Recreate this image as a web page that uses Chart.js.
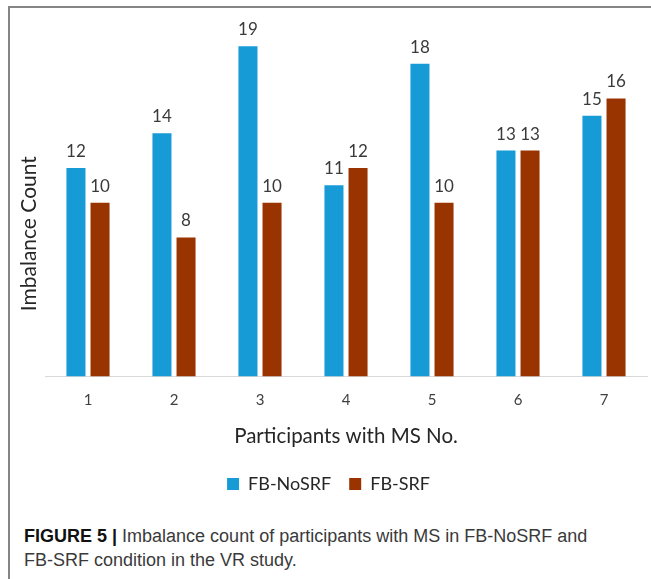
<!DOCTYPE html>
<html>
<head>
<meta charset="utf-8">
<script src="https://cdn.jsdelivr.net/npm/chart.js@4/dist/chart.umd.min.js"></script>
<style>
  html, body { margin: 0; padding: 0; background: #fff; }
  body { width: 651px; height: 579px; position: relative; overflow: hidden; }
  #frame {
    position: absolute; left: 8px; top: 6px; width: 700px; height: 640px;
    border-top: 2px solid #858585; border-left: 2px solid #858585;
  }
  #wrap { position: absolute; left: 10px; top: 8px; width: 641px; height: 495px; }
  #caption {
    position: absolute; left: 24px; top: 524px; width: 575px;
    font-family: "Liberation Sans", Arial, sans-serif; font-size: 18px;
    line-height: 24px; color: #3a3a3a;
  }
  #caption b { color: #111; }
</style>
</head>
<body>
<div id="frame"></div>
<div id="wrap"><canvas id="chart" width="641" height="495"></canvas></div>
<div id="caption"><b>FIGURE 5 |</b> Imbalance count of participants with MS in FB-NoSRF and FB-SRF condition in the VR study.</div>
<script>
// Participants and their imbalance counts under each condition
const participants = ['1', '2', '3', '4', '5', '6', '7'];
const noSrfCounts = [12, 14, 19, 11, 18, 13, 15];
const srfCounts = [10, 8, 10, 12, 10, 13, 16];
const seriesNames = ['FB-NoSRF', 'FB-SRF'];
const yTitle = 'Imbalance Count';
const xTitle = 'Participants with MS No.';

// Value labels above each bar
const valueLabels = {
  id: 'valueLabels',
  afterDatasetsDraw(chart) {
    const ctx = chart.ctx;
    ctx.save();
    ctx.font = '17px Lato';
    ctx.fillStyle = '#3a3a3a';
    ctx.textAlign = 'center';
    ctx.textBaseline = 'alphabetic';
    chart.data.datasets.forEach((ds, i) => {
      chart.getDatasetMeta(i).data.forEach((bar, j) => {
        ctx.fillText(String(ds.data[j]), bar.x, bar.y - 11);
      });
    });
    ctx.restore();
  }
};

// Vertical axis title drawn beside the plot
const sideTitle = {
  id: 'sideTitle',
  afterDraw(chart) {
    const ctx = chart.ctx;
    ctx.save();
    ctx.translate(19, chart.chartArea.top + (chart.chartArea.bottom - chart.chartArea.top) / 2 + 31);
    ctx.rotate(-Math.PI / 2);
    ctx.font = '21px Lato';
    ctx.fillStyle = '#262626';
    ctx.textAlign = 'center';
    ctx.textBaseline = 'middle';
    ctx.fillText(yTitle, 0, 0);
    ctx.restore();
  }
};

new Chart(document.getElementById('chart'), {
  type: 'bar',
  data: {
    labels: participants,
    datasets: [
      { label: seriesNames[0], data: noSrfCounts, backgroundColor: '#179bd7',
        categoryPercentage: 0.56, barPercentage: 0.79 },
      { label: seriesNames[1], data: srfCounts, backgroundColor: '#993300',
        categoryPercentage: 0.56, barPercentage: 0.79 }
    ]
  },
  options: {
    responsive: false,
    animation: false,
    layout: { padding: { top: 21, right: 4, left: 0, bottom: 0 } },
    plugins: {
      legend: {
        position: 'bottom',
        labels: {
          boxWidth: 12, boxHeight: 12, padding: 18,
          color: '#262626', font: { family: 'Lato', size: 18 }
        }
      },
      tooltip: { enabled: false }
    },
    scales: {
      x: {
        grid: { display: false, drawTicks: false },
        border: { display: true, color: '#d9d9d9', width: 1 },
        ticks: { color: '#404040', font: { family: 'Lato', size: 15 }, padding: 15 },
        title: {
          display: true, text: xTitle, color: '#262626',
          font: { family: 'Lato', size: 20.5 }, padding: { top: 0, bottom: 8 }
        }
      },
      y: {
        display: true,
        min: 0, max: 20,
        grid: { display: false },
        border: { display: false },
        ticks: { display: false },
        afterFit(scale) { scale.width = 35; }
      }
    }
  },
  plugins: [valueLabels, sideTitle]
});
</script>
</body>
</html>
